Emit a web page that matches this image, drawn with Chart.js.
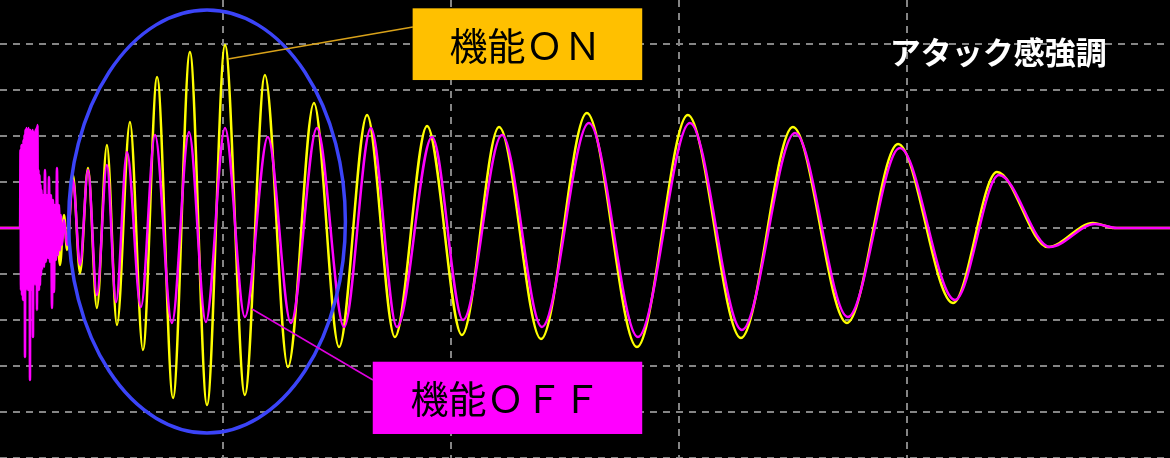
<!DOCTYPE html>
<html lang="ja">
<head>
<meta charset="utf-8">
<title>アタック感強調</title>
<script src="https://cdn.jsdelivr.net/npm/chart.js@4.4.1/dist/chart.umd.min.js"></script>
<style>
  html, body { margin: 0; padding: 0; background: #000; }
  #wrap { width: 1170px; height: 458px; position: relative; }
</style>
</head>
<body>
<div id="wrap"><canvas id="scope"></canvas></div>
<script>
// time and amplitude are both in scope divisions (0 = centre of screen)
const onTime = [
  -0.978, -0.890, -0.873, -0.855, -0.838, -0.820, -0.803, -0.785, -0.768, -0.750, -0.732, -0.715, -0.697, -0.684,
  -0.658, -0.627, -0.592, -0.553, -0.509, -0.465, -0.408, -0.351, -0.289, -0.219, -0.145, -0.070,
  0.009, 0.096, 0.184, 0.285, 0.399, 0.509, 0.632, 0.754, 0.895, 1.048, 1.211, 1.395, 1.596, 1.816,
  2.039, 2.272, 2.500, 2.737, 2.961, 3.202, 3.395, 3.618, 3.816, 3.912, 4.154
];
const onValue = [
  0, 0, 0.50, -0.587, 0.717, -0.739, 0.609, -0.739, 0.50, -0.587, 0.391, -0.804, 0.283, -0.478,
  1.152, -0.978, 1.304, -1.739, 1.804, -2.109, 2.304, -2.652, 3.283, -3.696, 3.826, -3.848,
  3.978, -3.630, 3.326, -3.022, 2.717, -2.587, 2.457, -2.370, 2.217, -2.326, 2.196, -2.413, 2.500, -2.587,
  2.457, -2.391, 2.196, -2.065, 1.826, -1.630, 1.217, -0.413, 0.109, 0, 0
];

// the OFF trace starts with a dense burst of noise
const offTime = [
  -0.978, -0.890,
  -0.8882, -0.8860, -0.8838, -0.8816, -0.8794, -0.8772, -0.8750, -0.8728, -0.8706, -0.8684,
  -0.8662, -0.8640, -0.8618, -0.8596, -0.8575, -0.8553, -0.8531, -0.8509, -0.8487, -0.8465,
  -0.8443, -0.8421, -0.8399, -0.8377, -0.8355, -0.8333, -0.8311, -0.8289, -0.8268, -0.8246,
  -0.8224, -0.8202, -0.8180, -0.8158, -0.8136, -0.8114, -0.8092, -0.8070, -0.8048, -0.8026,
  -0.8004, -0.7982, -0.7961, -0.7939,
  -0.7895, -0.7851, -0.7807, -0.7763, -0.7719, -0.7675, -0.7632, -0.7588, -0.7544, -0.7500,
  -0.7456, -0.7412, -0.7368, -0.7325, -0.7281, -0.7237, -0.7193, -0.7149, -0.7105, -0.7061,
  -0.6974, -0.6842,
  -0.658, -0.627, -0.592, -0.553, -0.509, -0.469, -0.421, -0.360, -0.298, -0.224, -0.149, -0.075,
  0.009, 0.096, 0.197, 0.298, 0.412, 0.531, 0.649, 0.763, 0.917, 1.053, 1.224, 1.399, 1.605, 1.820,
  2.048, 2.276, 2.509, 2.741, 2.969, 3.211, 3.404, 3.627, 3.825, 3.921, 4.154
];
const offValue = [
  0, 0,
  1.696, -1.348, 1.804, -1.457, 1.804, -1.565, 1.913, -1.565, 2.022, -2.804,
  2.130, -1.348, 2.174, -1.239, 2.130, -1.348, 2.174, -1.239, 2.130, -3.304,
  2.130, -1.239, 2.087, -1.348, 2.130, -2.370, 2.087, -1.239, 2.022, -1.130,
  2.130, -1.239, 2.174, -1.783, 2.239, -1.239, 1.261, -1.348, 1.152, -1.239,
  0.935, -1.022, 0.826, -0.913,
  0.717, -0.848, 1.261, -0.739, 0.717, -0.652, 1.109, -0.739, 0.717, -1.739,
  0.609, -1.391, 0.500, -0.696, 1.304, -0.587, 0.500, -0.478, 0.283, -0.370,
  0.174, -0.370,
  1.043, -0.804, 1.261, -1.457, 1.370, -1.609, 1.652, -1.717, 2.022, -2.065, 2.087, -2.043,
  2.174, -1.935, 1.978, -2.065, 2.174, -2.152, 2.174, -2.152, 1.978, -2.000, 2.022, -2.152, 2.283, -2.370,
  2.283, -2.217, 2.065, -1.935, 1.739, -1.565, 1.152, -0.413, 0.087, 0, 0
];

const onLabel = '機能ＯＮ';
const offLabel = '機能ＯＦＦ';
const title = 'アタック感強調';

// callout geometry, also in divisions
const callouts = {
  ellipse: { cx: -0.070, cy: 0.141, rx: 0.607, ry: 4.598 },
  onBox: { x1: 0.832, x2: 1.839, y1: 4.776, y2: 3.217 },
  offBox: { x1: 0.657, x2: 1.839, y1: -2.907, y2: -4.478 },
  onLeader: [0.022, 3.674, 0.833, 4.370],
  offLeader: [0.127, -1.761, 0.658, -3.304],
  title: { x: 2.925, y: 3.826 }
};

const toPoints = (xs, ys) => xs.map((x, i) => ({ x, y: ys[i] }));

const calloutPlugin = {
  id: 'callouts',
  afterDatasetsDraw(chart) {
    const { ctx } = chart;
    const sx = v => chart.scales.x.getPixelForValue(v);
    const sy = v => chart.scales.y.getPixelForValue(v);
    const c = callouts;
    ctx.save();

    // blue ring round the attack part
    const e = c.ellipse;
    ctx.beginPath();
    ctx.ellipse(sx(e.cx), sy(e.cy), sx(e.rx) - sx(0), sy(0) - sy(e.ry), 0, 0, Math.PI * 2);
    ctx.strokeStyle = '#3b44f8';
    ctx.lineWidth = 3.5;
    ctx.stroke();

    // leader lines
    const leader = (l, color) => {
      ctx.beginPath();
      ctx.moveTo(sx(l[0]), sy(l[1]));
      ctx.lineTo(sx(l[2]), sy(l[3]));
      ctx.strokeStyle = color;
      ctx.lineWidth = 1.5;
      ctx.stroke();
    };
    leader(c.onLeader, '#d9a21a');
    leader(c.offLeader, '#e000e0');

    // label boxes
    const box = (b, fill, text) => {
      const x1 = sx(b.x1), x2 = sx(b.x2), y1 = sy(b.y1), y2 = sy(b.y2);
      ctx.fillStyle = fill;
      ctx.fillRect(x1, y1, x2 - x1, y2 - y1);
      ctx.fillStyle = '#000';
      ctx.font = '38px "Noto Sans CJK JP", sans-serif';
      ctx.textAlign = 'center';
      ctx.textBaseline = 'middle';
      ctx.fillText(text, (x1 + x2) / 2 - 2, (y1 + y2) / 2 + 1);
    };
    box(c.onBox, '#ffc000', onLabel);
    box(c.offBox, '#ff00ff', offLabel);

    ctx.fillStyle = '#fff';
    ctx.font = 'bold 31px "Noto Sans CJK JP", sans-serif';
    ctx.textAlign = 'left';
    ctx.textBaseline = 'middle';
    ctx.fillText(title, sx(c.title.x), sy(c.title.y));

    ctx.restore();
  }
};

const onlyWholeTicks = axis => {
  axis.ticks = axis.ticks.filter(t => Number.isInteger(t.value));
};

const gridAxis = (min, max) => ({
  type: 'linear',
  min,
  max,
  afterBuildTicks: onlyWholeTicks,
  ticks: { display: false, stepSize: 1 },
  grid: { color: '#858585', lineWidth: 2, drawTicks: false, tickLength: 0 },
  border: { display: false, dash: [7, 6] }
});

new Chart(document.getElementById('scope'), {
  type: 'line',
  data: {
    datasets: [
      {
        label: offLabel,
        data: toPoints(offTime, offValue),
        borderColor: '#ff00ff',
        borderWidth: 2.5,
        pointRadius: 0,
        cubicInterpolationMode: 'monotone'
      },
      {
        label: onLabel,
        data: toPoints(onTime, onValue),
        borderColor: '#ffff00',
        borderWidth: 2.5,
        pointRadius: 0,
        cubicInterpolationMode: 'monotone'
      }
    ]
  },
  options: {
    responsive: true,
    maintainAspectRatio: false,
    animation: false,
    events: [],
    layout: { padding: 0 },
    scales: {
      x: gridAxis(-0.978, 4.154),
      y: gridAxis(-5.0, 4.957)
    },
    plugins: {
      legend: { display: false },
      tooltip: { enabled: false }
    }
  },
  plugins: [calloutPlugin]
});
</script>
</body>
</html>
